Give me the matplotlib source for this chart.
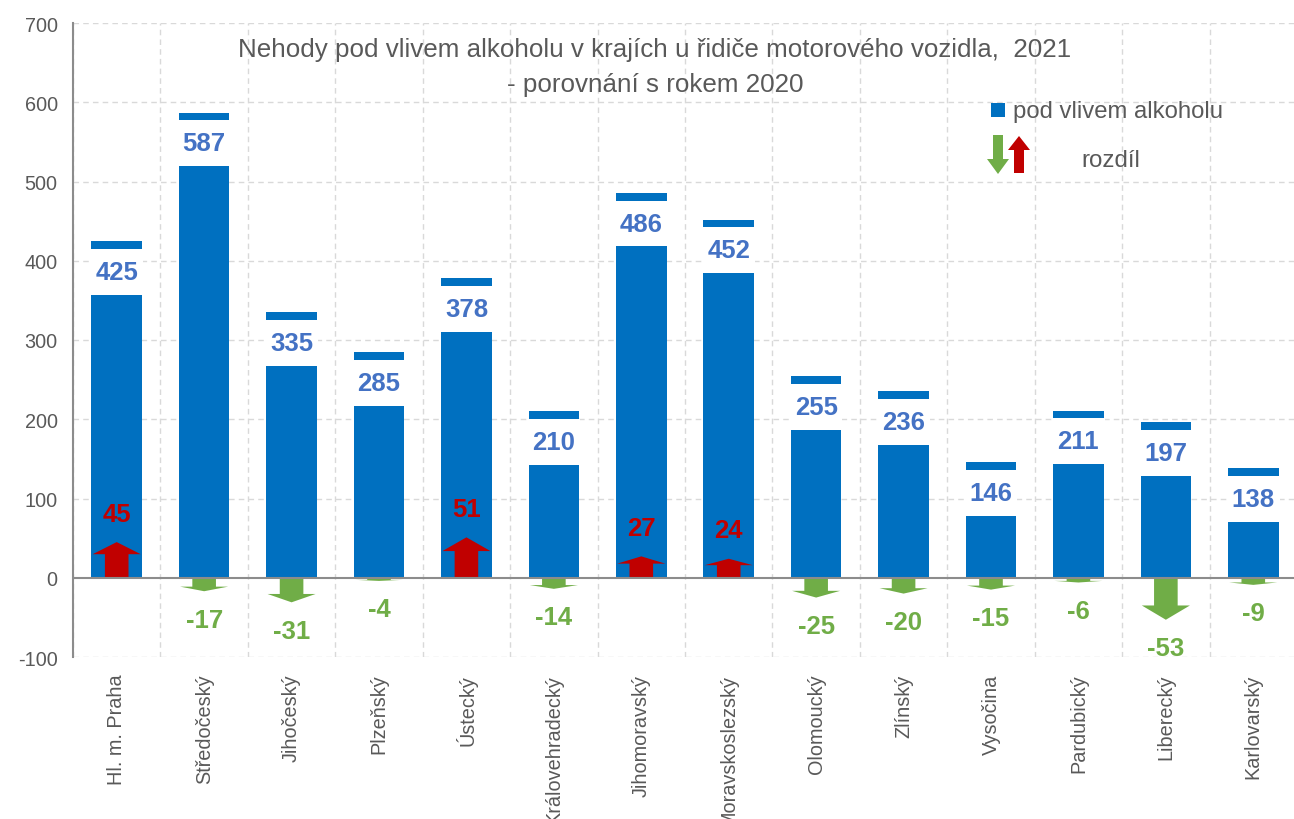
import matplotlib
matplotlib.use('Agg')
import matplotlib.pyplot as plt
from matplotlib.patches import Polygon, Rectangle

# data
regions = ['Hl. m. Praha', 'Středočeský', 'Jihočeský', 'Plzeňský', 'Ústecký',
           'Královehradecký', 'Jihomoravský', 'Moravskoslezský', 'Olomoucký',
           'Zlínský', 'Vysočina', 'Pardubický', 'Liberecký', 'Karlovarský']
accidents_2021 = [425, 587, 335, 285, 378, 210, 486, 452, 255, 236, 146, 211, 197, 138]
diff_vs_2020 = [45, -17, -31, -4, 51, -14, 27, 24, -25, -20, -15, -6, -53, -9]
y_ticks = [-100, 0, 100, 200, 300, 400, 500, 600, 700]

BLUE = '#0070C0'
LABEL_BLUE = '#4472C4'
RED = '#C00000'
GREEN = '#70AD47'
GRAY = '#595959'

plt.rcParams['font.family'] = ['Liberation Sans', 'DejaVu Sans']
plt.rcParams['axes.unicode_minus'] = False


def arrow_poly(x, y0, d, shaft_w, head_w, head_frac):
    """Vertical block arrow from y0 with signed length d."""
    hl = abs(d) * head_frac
    s = 1 if d >= 0 else -1
    yb = y0 + d - s * hl
    return [(x - shaft_w / 2, y0), (x - shaft_w / 2, yb), (x - head_w / 2, yb),
            (x, y0 + d), (x + head_w / 2, yb), (x + shaft_w / 2, yb),
            (x + shaft_w / 2, y0)]


fig = plt.figure(figsize=(12.94, 8.2), dpi=100)
ax = fig.add_axes([73 / 1294, 162 / 820, 1224 / 1294, 634 / 820])

n = len(regions)
xs = list(range(n))
bar_w = 0.58

ax.bar(xs, accidents_2021, width=bar_w, color=BLUE, zorder=2)

for x, v in zip(xs, accidents_2021):
    # white label box cut into the top of the bar
    ax.add_patch(Rectangle((x - bar_w / 2 - 0.01, v - 68), bar_w + 0.02, 58,
                           facecolor='white', edgecolor='none', zorder=3))
    ax.text(x, v - 39, str(v), ha='center', va='center', fontsize=18.5,
            fontweight='bold', color=LABEL_BLUE, zorder=4)

for x, d in zip(xs, diff_vs_2020):
    col = RED if d > 0 else GREEN
    ax.add_patch(Polygon(arrow_poly(x, 0, d, 0.27, 0.55, 0.34), closed=True,
                         facecolor=col, edgecolor='none', zorder=5))
    ty = d + 36 if d > 0 else d - 36
    ax.text(x, ty, str(d), ha='center', va='center', fontsize=18.5,
            fontweight='bold', color=col, zorder=6)

ax.set_xlim(-0.5, n - 0.5)
ax.set_ylim(-100, 700)
ax.set_yticks(y_ticks)
ax.set_xticks(xs)
ax.set_xticklabels(regions, rotation=90, ha='center', va='top')
ax.tick_params(axis='x', length=0, pad=12, labelsize=14.3, labelcolor=GRAY)
ax.tick_params(axis='y', length=0, pad=11, labelsize=14.3, labelcolor=GRAY)

# grid: horizontal at ticks, vertical between categories
for yv in y_ticks:
    if yv != 0:
        ax.axhline(yv, color='#D9D9D9', linestyle=(0, (4, 3)), linewidth=1, zorder=0)
for b in range(n + 1):
    ax.axvline(b - 0.5, color='#D9D9D9', linestyle=(0, (4, 3)), linewidth=1, zorder=0)
ax.axhline(0, color='#8C8C8C', linewidth=1.5, zorder=7)

for s in ['top', 'right', 'bottom']:
    ax.spines[s].set_visible(False)
ax.spines['left'].set_color('#8C8C8C')
ax.spines['left'].set_linewidth(1.5)

# title
fig.text(655 / 1294, 1 - 50 / 820,
         'Nehody pod vlivem alkoholu v krajích u řidiče motorového vozidla,  2021',
         ha='center', va='center', fontsize=18.7, color=GRAY)
fig.text(655 / 1294, 1 - 85 / 820, '- porovnání s rokem 2020',
         ha='center', va='center', fontsize=18.7, color=GRAY)

# hand-made legend (pixel coordinates)
px = fig.dpi_scale_trans
def P(xp, yp):
    return (xp / 100, (820 - yp) / 100)

fig.patches.append(Rectangle(P(991, 118), 0.14, 0.14, transform=px,
                             facecolor=BLUE, edgecolor='none', figure=fig))
fig.text(1013 / 1294, 1 - 112 / 820, 'pod vlivem alkoholu', ha='left', va='center',
         fontsize=17.2, color=GRAY)
down = [P(*p) for p in [(993, 136), (993, 160), (987, 160), (998, 175),
                        (1009, 160), (1003, 160), (1003, 136)]]
up = [P(*p) for p in [(1014, 174), (1014, 151), (1008, 151), (1019, 137),
                      (1030, 151), (1024, 151), (1024, 174)]]
fig.patches.append(Polygon(down, closed=True, transform=px, facecolor=GREEN,
                           edgecolor='none', figure=fig))
fig.patches.append(Polygon(up, closed=True, transform=px, facecolor=RED,
                           edgecolor='none', figure=fig))
fig.text(1111 / 1294, 1 - 161 / 820, 'rozdíl', ha='center', va='center',
         fontsize=17.4, color=GRAY)

fig.savefig('out.png', dpi=100)
